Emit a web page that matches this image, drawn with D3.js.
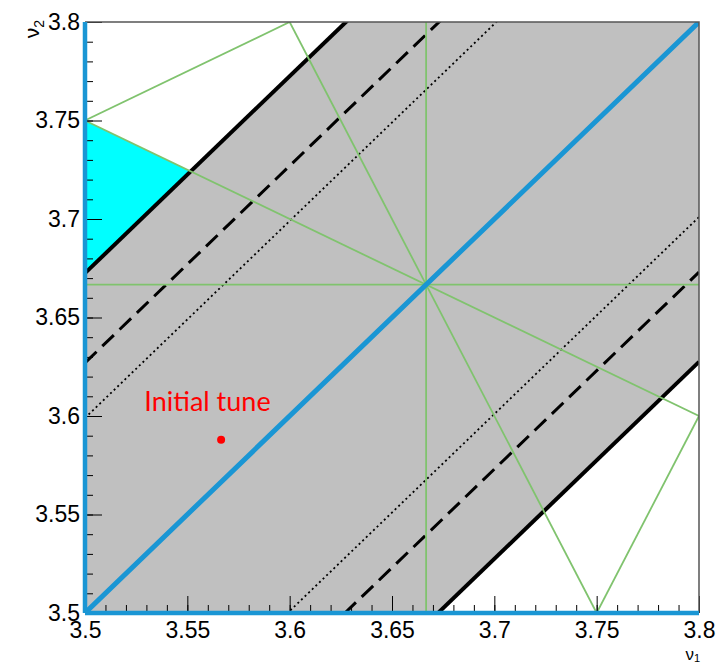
<!DOCTYPE html>
<html>
<head>
<meta charset="utf-8">
<script src="https://cdn.jsdelivr.net/npm/d3@7"></script>
<style>
  html, body { margin: 0; padding: 0; background: #fff; }
  svg { display: block; }
</style>
</head>
<body>
<svg id="chart" width="717" height="664"></svg>
<script>
// Tune diagram: working-point band around the coupling line nu1 = nu2,
// with nearby resonance lines and the initial tune.

const tuneDomain = [3.5, 3.8];
const majorTicks = [3.5, 3.55, 3.6, 3.65, 3.7, 3.75, 3.8];
const tickLabels = ["3.5", "3.55", "3.6", "3.65", "3.7", "3.75", "3.8"];
const minorTicks = d3.range(0, 31).map(i => +(3.5 + i * 0.01).toFixed(2));

// Half-widths of the band around nu2 = nu1 (solid, dashed, dotted boundaries)
const bandNames = ["outer", "middle", "inner"];
const bandOffsets = [0.1725, 0.127, 0.099];

// Resonance lines a*nu1 + b*nu2 = c
const resA = [1, 2, -1, 2, 1, 0];
const resB = [2, 1, 2, -1, 0, 1];
const resC = [11, 11, 4, 4, 11 / 3, 11 / 3];

// Highlighted line nu2 = nu1 and the boundary lines nu1 = 3.5, nu2 = 3.5
const diagonal = [[3.5, 3.5], [3.8, 3.8]];
const edgeLines = [[[3.5, 3.5], [3.5, 3.8]], [[3.5, 3.5], [3.8, 3.5]]];

// Initial working point
const initialTune = [3.5665, 3.588];
const initialLabel = "Initial tune";
const initialLabelPos = [3.529, 3.6025];

const W = 717, H = 664;
const m = { left: 85, right: 699, top: 22, bottom: 613 };

const x = d3.scaleLinear().domain(tuneDomain).range([m.left, m.right]);
const y = d3.scaleLinear().domain(tuneDomain).range([m.bottom, m.top]);

const svg = d3.select("#chart");

svg.append("defs").append("clipPath").attr("id", "plotClip")
  .append("rect")
  .attr("x", m.left).attr("y", m.top)
  .attr("width", m.right - m.left).attr("height", m.bottom - m.top);

const plot = svg.append("g").attr("clip-path", "url(#plotClip)");
const line = d3.line().x(d => x(d[0])).y(d => y(d[1]));

// Shaded band between the outer boundaries
const lo = tuneDomain[0], hi = tuneDomain[1];
const c0 = bandOffsets[0];
const band = [[lo, lo], [lo, lo + c0], [hi - c0, hi], [hi, hi], [hi, hi - c0], [lo + c0, lo]];
plot.append("path")
  .attr("d", line(band) + "Z")
  .attr("fill", "#c0c0c0");

// Cyan triangle between nu1 = 3.5, the nu1 + 2*nu2 = 11 line and the outer band edge
const xi = (resC[0] - resB[0] * c0) / (resA[0] + resB[0]);
const tri = [[lo, (resC[0] - resA[0] * lo) / resB[0]], [lo, lo + c0], [xi, xi + c0]];
plot.append("path")
  .attr("d", line(tri) + "Z")
  .attr("fill", "#00ffff");

// Resonance lines clipped to the tune window
function resonanceSegment(a, b, c) {
  if (b === 0) return [[c / a, lo], [c / a, hi]];
  if (a === 0) return [[lo, c / b], [hi, c / b]];
  const pts = [];
  [lo, hi].forEach(v1 => {
    const v2 = (c - a * v1) / b;
    if (v2 >= lo - 1e-9 && v2 <= hi + 1e-9) pts.push([v1, v2]);
  });
  [lo, hi].forEach(v2 => {
    const v1 = (c - b * v2) / a;
    if (v1 >= lo - 1e-9 && v1 <= hi + 1e-9) pts.push([v1, v2]);
  });
  pts.sort((p, q) => p[0] - q[0]);
  return [pts[0], pts[pts.length - 1]];
}

// Band boundary lines
const bandStyle = {
  outer: { w: 4, dash: null },
  middle: { w: 3, dash: "16,8" },
  inner: { w: 1.8, dash: "2,3" }
};
bandOffsets.forEach((c, i) => {
  const st = bandStyle[bandNames[i]];
  [c, -c].forEach(off => {
    plot.append("path")
      .attr("d", line([[lo, lo + off], [hi, hi + off]]))
      .attr("fill", "none")
      .attr("stroke", "#000")
      .attr("stroke-width", st.w)
      .attr("stroke-dasharray", st.dash);
  });
});

resA.forEach((a, i) => {
  const seg = resonanceSegment(a, resB[i], resC[i]);
  plot.append("path")
    .attr("d", line(seg))
    .attr("fill", "none")
    .attr("stroke", "#80c36e")
    .attr("stroke-width", 1.8);
});

// Coupling line nu2 = nu1
plot.append("path")
  .attr("d", line(diagonal))
  .attr("fill", "none")
  .attr("stroke", "#1a96d4")
  .attr("stroke-width", 5)
  .attr("stroke-linecap", "round");

// Axes with inward ticks
const gx = svg.append("g").attr("transform", `translate(0,${m.bottom})`);
gx.call(d3.axisBottom(x).tickValues(minorTicks).tickSizeInner(-8).tickSizeOuter(0).tickFormat(""));
const gxMaj = svg.append("g").attr("transform", `translate(0,${m.bottom})`);
gxMaj.call(d3.axisBottom(x).tickValues(majorTicks).tickSizeInner(-17).tickSizeOuter(0)
  .tickPadding(9).tickFormat((d, i) => tickLabels[i]));

const gy = svg.append("g").attr("transform", `translate(${m.left},0)`);
gy.call(d3.axisLeft(y).tickValues(minorTicks).tickSizeInner(-8).tickSizeOuter(0).tickFormat(""));
const gyMaj = svg.append("g").attr("transform", `translate(${m.left},0)`);
gyMaj.call(d3.axisLeft(y).tickValues(majorTicks).tickSizeInner(-17).tickSizeOuter(0)
  .tickPadding(5).tickFormat((d, i) => tickLabels[i]));

svg.selectAll(".domain").remove();
svg.selectAll(".tick line").attr("stroke", "#000").attr("stroke-width", 1);
svg.selectAll(".tick text")
  .attr("font-family", "'Liberation Sans', Arial, sans-serif")
  .attr("font-size", 23)
  .attr("fill", "#000");

// Frame
svg.append("path")
  .attr("d", `M${m.left},${m.top}H${m.right}V${m.bottom}`)
  .attr("fill", "none")
  .attr("stroke", "#555")
  .attr("stroke-width", 1.5);

// Boundary lines nu1 = 3.5 and nu2 = 3.5
edgeLines.forEach(seg => {
  svg.append("path")
    .attr("d", line(seg))
    .attr("fill", "none")
    .attr("stroke", "#1a96d4")
    .attr("stroke-width", 4.5);
});

// Axis titles
const t1 = svg.append("text")
  .attr("x", 700).attr("y", 660)
  .attr("text-anchor", "end")
  .attr("font-family", "'Liberation Sans', Arial, sans-serif")
  .attr("font-size", 17);
t1.append("tspan").text("ν");
t1.append("tspan").attr("font-size", 11).attr("dy", 1.5).text("1");

const t2 = svg.append("text")
  .attr("transform", "translate(39,20) rotate(-90)")
  .attr("text-anchor", "end")
  .attr("font-family", "'Liberation Sans', Arial, sans-serif")
  .attr("font-size", 21);
t2.append("tspan").text("ν");
t2.append("tspan").attr("font-size", 14).attr("dy", 5).text("2");

// Initial tune marker and label
svg.append("circle")
  .attr("cx", x(initialTune[0])).attr("cy", y(initialTune[1]))
  .attr("r", 4).attr("fill", "#ff0000");
svg.append("text")
  .attr("x", x(initialLabelPos[0])).attr("y", y(initialLabelPos[1]))
  .attr("font-family", "Lato, 'Noto Sans', sans-serif")
  .attr("font-size", 27)
  .attr("fill", "#ff0000")
  .text(initialLabel);
</script>
</body>
</html>
